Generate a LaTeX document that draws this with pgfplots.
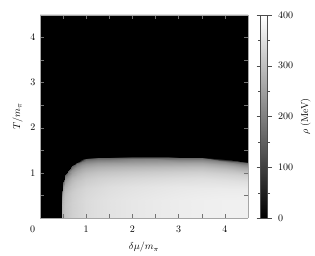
\documentclass[border=0pt]{standalone}
\usepackage{pgfplots}
\usepackage{pgfplotstable}
\pgfplotsset{compat=1.18}
\pgfplotstableread{
x T rho
0.47 0 280
0.47 0.186 280
0.47 0.31 274.4
0.47 0.403 260.4
0.47 0.465 243.6
0.47 0.515 221.2
0.47 0.558 193.2
0.47 0.589 159.6
0.47 0.608 126
0.47 0.62 0
0.50 0 295
0.50 0.246 295
0.50 0.41 289.1
0.50 0.533 274.4
0.50 0.615 256.7
0.50 0.681 233.1
0.50 0.738 203.6
0.50 0.779 168.2
0.50 0.804 132.8
0.50 0.82 0
0.55 0 308
0.55 0.294 308
0.55 0.49 301.8
0.55 0.637 286.4
0.55 0.735 268
0.55 0.813 243.3
0.55 0.882 212.5
0.55 0.931 175.6
0.55 0.960 138.6
0.55 0.98 0
0.60 0 316
0.60 0.321 316
0.60 0.535 309.7
0.60 0.696 293.9
0.60 0.803 274.9
0.60 0.888 249.6
0.60 0.963 218
0.60 1.017 180.1
0.60 1.049 142.2
0.60 1.07 0
0.70 0 326
0.70 0.351 326
0.70 0.585 319.5
0.70 0.761 303.2
0.70 0.878 283.6
0.70 0.971 257.5
0.70 1.053 224.9
0.70 1.112 185.8
0.70 1.147 146.7
0.70 1.17 0
0.80 0 333
0.80 0.375 333
0.80 0.625 326.3
0.80 0.813 309.7
0.80 0.938 289.7
0.80 1.038 263.1
0.80 1.125 229.8
0.80 1.188 189.8
0.80 1.225 149.9
0.80 1.25 0
0.90 0 338
0.90 0.39 338
0.90 0.65 331.2
0.90 0.845 314.3
0.90 0.975 294.1
0.90 1.079 267
0.90 1.17 233.2
0.90 1.235 192.7
0.90 1.274 152.1
0.90 1.30 0
1.00 0 343
1.00 0.399 343
1.00 0.665 336.1
1.00 0.865 319
1.00 0.998 298.4
1.00 1.104 271
1.00 1.197 236.7
1.00 1.264 195.5
1.00 1.303 154.4
1.00 1.33 0
1.25 0 350
1.25 0.405 350
1.25 0.675 343
1.25 0.878 325.5
1.25 1.013 304.5
1.25 1.121 276.5
1.25 1.215 241.5
1.25 1.283 199.5
1.25 1.323 157.5
1.25 1.35 0
1.50 0 355
1.50 0.408 355
1.50 0.68 347.9
1.50 0.884 330.2
1.50 1.02 308.9
1.50 1.129 280.5
1.50 1.224 245
1.50 1.292 202.4
1.50 1.333 159.8
1.50 1.36 0
2.00 0 362
2.00 0.41 362
2.00 0.683 354.8
2.00 0.887 336.7
2.00 1.024 314.9
2.00 1.133 286
2.00 1.229 249.8
2.00 1.297 206.3
2.00 1.338 162.9
2.00 1.365 0
2.50 0 367
2.50 0.41 367
2.50 0.683 359.7
2.50 0.887 341.3
2.50 1.024 319.3
2.50 1.133 289.9
2.50 1.229 253.2
2.50 1.297 209.2
2.50 1.338 165.2
2.50 1.365 0
3.00 0 371
3.00 0.408 371
3.00 0.68 363.6
3.00 0.884 345
3.00 1.02 322.8
3.00 1.129 293.1
3.00 1.224 256
3.00 1.292 211.5
3.00 1.333 167
3.00 1.36 0
3.50 0 374
3.50 0.405 374
3.50 0.675 366.5
3.50 0.878 347.8
3.50 1.013 325.4
3.50 1.121 295.5
3.50 1.215 258.1
3.50 1.283 213.2
3.50 1.323 168.3
3.50 1.35 0
4.00 0 376
4.00 0.39 376
4.00 0.65 368.5
4.00 0.845 349.7
4.00 0.975 327.1
4.00 1.079 297
4.00 1.17 259.4
4.00 1.235 214.3
4.00 1.274 169.2
4.00 1.30 0
4.50 0 377
4.50 0.372 377
4.50 0.62 369.5
4.50 0.806 350.6
4.50 0.93 328
4.50 1.029 297.8
4.50 1.116 260.1
4.50 1.178 214.9
4.50 1.215 169.7
4.50 1.24 0
}\rhodata
\begin{document}
\begin{tikzpicture}
\begin{axis}[
  name=ax,
  scale only axis,
  width=208pt, height=203pt,
  xmin=0, xmax=4.5, ymin=0, ymax=4.5,
  view={0}{90},
  axis background/.style={fill=black},
  axis line style={black!35, line width=0.3pt},
  xtick={0,1,2,3,4},
  xticklabels={\makebox[0pt][r]{0\hspace{5pt}},1,2,3,4},
  ytick={1,2,3,4},
  minor xtick={0.5,1.5,2.5,3.5},
  minor ytick={0.5,1.5,2.5,3.5},
  tick align=inside,
  major tick length=4pt, minor tick length=4pt,
  tick style={black!55, line width=0.4pt},
  xticklabel style={yshift=-4pt},
  yticklabel style={xshift=-1pt},
  xlabel={$\delta\mu/m_\pi$},
  ylabel={$T/m_\pi$},
  xlabel style={yshift=-3pt},
  ylabel style={yshift=1pt},
  colormap={bw}{gray(0cm)=(0); gray(1cm)=(1)},
  point meta min=0, point meta max=400,
  colorbar,
  colorbar style={
    at={(parent axis.north east)}, anchor=north west, xshift=4pt,
    width=7pt,
    axis line style={black!70, line width=0.3pt},
    ytick={0,100,200,300,400},
    minor ytick={50,150,250,350},
    tick align=outside,
    major tick length=4pt, minor tick length=2.5pt,
    tick style={black!70},
    ylabel={$\rho$ (MeV)},
    ylabel style={at={([xshift=38pt]rel axis cs:1,0.5)}, anchor=center, rotate=0},
    yticklabel style={xshift=3pt},
  },
]
\addplot3[surf, shader=interp, mesh/ordering=y varies, mesh/rows=10, mesh/cols=16] table[x=x, y=T, z=rho, meta=rho] {\rhodata};
\end{axis}
\pgfresetboundingbox
\path[use as bounding box] ([shift={(-40pt,-38pt)}]ax.south west) rectangle ([shift={(67pt,15pt)}]ax.north east);
\end{tikzpicture}
\end{document}
